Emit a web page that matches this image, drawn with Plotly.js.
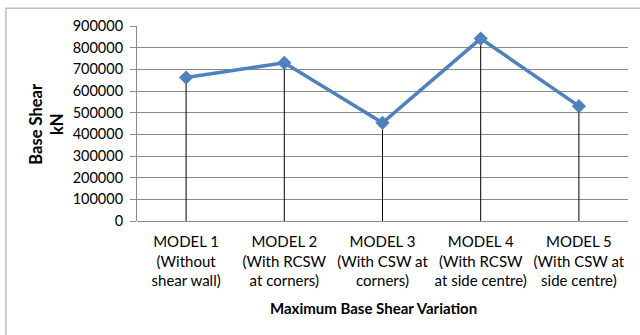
<!DOCTYPE html>
<html>
<head>
<meta charset="utf-8">
<script src="https://cdn.plot.ly/plotly-3.0.1.min.js"></script>
<style>html,body{margin:0;padding:0;background:#fff;}#chart{width:640px;height:335px;}</style>
</head>
<body>
<div id="chart"></div>
<script>
const categories = [
  "MODEL 1<br>(Without<br>shear wall)",
  "MODEL 2<br>(With RCSW<br>at corners)",
  "MODEL 3<br>(With CSW at<br>corners)",
  "MODEL 4<br>(With RCSW<br>at side centre)",
  "MODEL 5<br>(With CSW at<br>side centre)"
];
const baseShear = [662000, 730000, 453000, 842000, 530000];
const yTicks = [0, 100000, 200000, 300000, 400000, 500000, 600000, 700000, 800000, 900000];
const zeros = baseShear.map(() => 0);

const traces = [
  {
    x: categories, y: baseShear, type: 'scatter', mode: 'lines+markers',
    line: {color: '#4F81BD', width: 3.5},
    marker: {symbol: 'diamond', size: 11, color: '#4F81BD'},
    error_y: {type: 'data', symmetric: false, array: zeros, arrayminus: baseShear,
              color: '#000000', thickness: 1, width: 0},
    cliponaxis: false, hoverinfo: 'none'
  }
];

const layout = {
  width: 640, height: 335,
  margin: {l: 137, r: 12, t: 26, b: 114},
  paper_bgcolor: '#ffffff', plot_bgcolor: '#ffffff',
  showlegend: false,
  font: {family: 'Lato, "Open Sans", sans-serif', size: 14, color: '#000'},
  xaxis: {
    type: 'category', range: [-0.5, 4.5],
    showgrid: false, zeroline: false,
    showline: false, ticks: '',
    tickfont: {size: 15, family: 'Lato, sans-serif'},
    ticklabelstandoff: 10,
    fixedrange: true
  },
  yaxis: {
    range: [0, 900000], tickvals: yTicks, ticktext: yTicks.map(String),
    showgrid: true, gridcolor: '#8a8a8a', gridwidth: 1,
    zeroline: true, zerolinecolor: '#8a8a8a', zerolinewidth: 1,
    showline: true, linecolor: '#8a8a8a', linewidth: 1,
    ticks: 'outside', ticklen: 6, tickcolor: '#8a8a8a',
    tickfont: {size: 14.5, family: 'Lato, sans-serif'},
    ticklabelstandoff: 4,
    fixedrange: true
  },
  annotations: [
    {text: '<b>Base Shear<br>kN</b>', xref: 'paper', yref: 'paper', x: -0.185, y: 0.5,
     xanchor: 'center', yanchor: 'middle', textangle: -90, showarrow: false,
     font: {size: 16.5, family: 'Lato, sans-serif'}},
    {text: '<b>Maximum Base Shear Variation</b>', xref: 'paper', yref: 'paper',
     x: 0.481, y: -0.445, xanchor: 'center', yanchor: 'middle', showarrow: false,
     font: {size: 15, family: 'Lato, sans-serif'}}
  ],
  shapes: [
    {type: 'rect', xref: 'paper', yref: 'paper', x0: -0.267, x1: 1.1, y0: -0.65, y1: 1.091,
     line: {color: '#bfbfbf', width: 1.5}, fillcolor: 'rgba(0,0,0,0)', layer: 'below'}
  ]
};

Plotly.newPlot('chart', traces, layout, {staticPlot: true, displayModeBar: false});
</script>
</body>
</html>
